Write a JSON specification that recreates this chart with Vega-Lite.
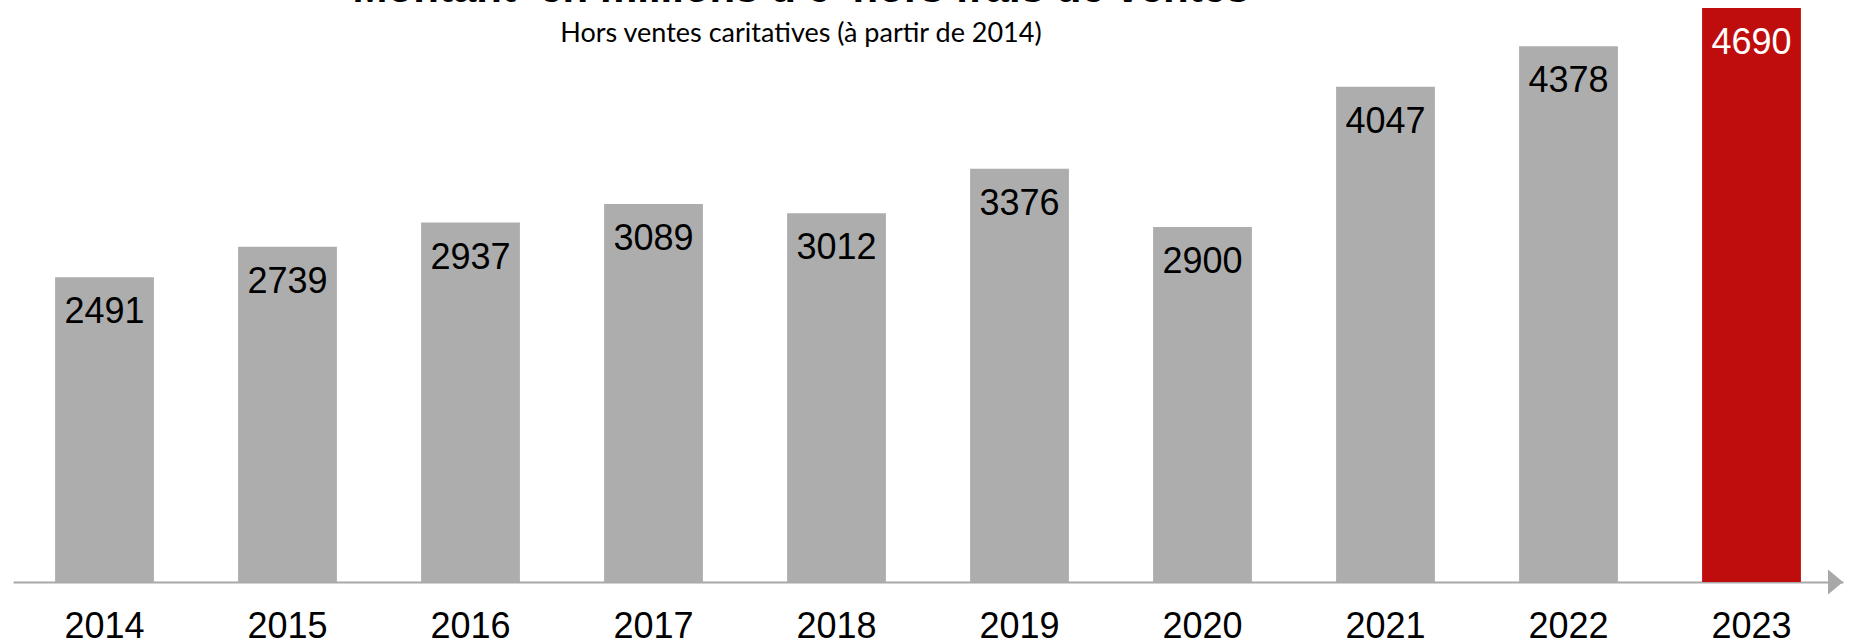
{
  "$schema": "https://vega.github.io/schema/vega-lite/v6.json",
  "autosize": "none",
  "width": 1830,
  "height": 574,
  "padding": {"left": 13, "top": 8, "right": 9, "bottom": 62},
  "background": "white",
  "config": {"view": {"stroke": null}},
  "title": {
    "text": "Montant \u00a0en millions d'€ \u00a0hors frais de ventes",
    "subtitle": "Hors ventes caritatives (à partir de 2014)",
    "anchor": "middle",
    "frame": "group",
    "dx": -127,
    "offset": -40,
    "font": "Liberation Sans",
    "fontSize": 42,
    "fontWeight": "bold",
    "color": "black",
    "subtitleFont": "Lato",
    "subtitleFontSize": 27,
    "subtitleColor": "black",
    "subtitlePadding": 10.5
  },
  "data": {
    "values": [
      {"year": "2014", "value": 2491},
      {"year": "2015", "value": 2739},
      {"year": "2016", "value": 2937},
      {"year": "2017", "value": 3089},
      {"year": "2018", "value": 3012},
      {"year": "2019", "value": 3376},
      {"year": "2020", "value": 2900},
      {"year": "2021", "value": 4047},
      {"year": "2022", "value": 4378},
      {"year": "2023", "value": 4690}
    ]
  },
  "encoding": {
    "x": {
      "field": "year",
      "type": "ordinal",
      "scale": {"paddingInner": 0.46, "paddingOuter": 0.23},
      "axis": {
        "title": null,
        "labelAngle": 0,
        "labelFont": "Liberation Sans",
        "labelFontSize": 36,
        "labelColor": "black",
        "labelPadding": 27,
        "ticks": false,
        "tickSize": 0,
        "domain": true,
        "domainColor": "#a8a8a8",
        "domainWidth": 2
      }
    },
    "y": {
      "field": "value",
      "type": "quantitative",
      "scale": {"domain": [0, 4690], "nice": false},
      "axis": null
    }
  },
  "layer": [
    {
      "mark": {"type": "bar"},
      "encoding": {
        "color": {
          "condition": {"test": "datum.year === '2023'", "value": "#bf0d0d"},
          "value": "#adadad"
        }
      }
    },
    {
      "mark": {"type": "text", "baseline": "top", "dy": 18, "font": "Liberation Sans", "fontSize": 36},
      "encoding": {
        "text": {"field": "value", "type": "quantitative", "format": "d"},
        "color": {
          "condition": {"test": "datum.year === '2023'", "value": "white"},
          "value": "black"
        }
      }
    },
    {
      "transform": [{"filter": "datum.year === '2023'"}],
      "mark": {
        "type": "point",
        "filled": true,
        "opacity": 1,
        "shape": "M-1,-0.833L0,0L-1,0.833Z",
        "size": 900,
        "color": "#a8a8a8",
        "strokeWidth": 0
      },
      "encoding": {
        "x": {"value": "width"},
        "y": {"datum": 0}
      }
    }
  ]
}
